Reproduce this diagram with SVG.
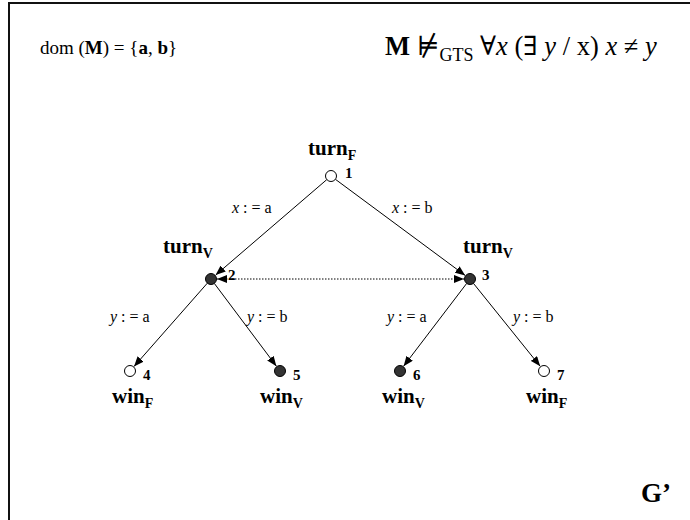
<svg xmlns="http://www.w3.org/2000/svg" width="690" height="520" viewBox="0 0 690 520">
<defs>
<style>
text{font-family:"Liberation Serif","DejaVu Serif",serif;fill:#000}
.lbl{font-size:21px;font-weight:bold}
.sub{font-size:14px;font-weight:bold}
.num{font-size:15px;font-weight:bold}
.edge{font-size:16px}
.it{font-style:italic}
.open{fill:#fff;stroke:#000;stroke-width:1}
.fill{fill:#333;stroke:#000;stroke-width:1}
.conn{stroke:#000;stroke-width:1;fill:none}
</style>
<marker id="ah" markerUnits="userSpaceOnUse" markerWidth="10" markerHeight="8" refX="10" refY="4" orient="auto-start-reverse">
<path d="M0,0 L10,4 L0,8 z" fill="#000"/>
</marker>
</defs>
<rect width="690" height="520" fill="#fff"/>
<path d="M9,520 V3 H690" fill="none" stroke="#111" stroke-width="2"/>

<text x="40" y="54" style="font-size:19px">dom (<tspan font-weight="bold">M</tspan>) = {<tspan font-weight="bold">a</tspan>, <tspan font-weight="bold">b</tspan>}</text>
<text x="385" y="55" style="font-size:26.5px"><tspan font-weight="bold">M</tspan> ⊭<tspan style="font-size:18px" dy="6">GTS</tspan><tspan dy="-6"> ∀</tspan><tspan class="it">x</tspan> (∃ <tspan class="it">y</tspan> / x) <tspan class="it">x</tspan> ≠ <tspan class="it">y</tspan></text>

<g id="connectors">
<line class="conn" x1="326.8" y1="179.6" x2="215.6" y2="275.1" marker-end="url(#ah)"/>
<line class="conn" x1="335.4" y1="179.3" x2="465.2" y2="275.4" marker-end="url(#ah)"/>
<line class="conn" x1="207.4" y1="283.1" x2="134" y2="366.5" marker-end="url(#ah)"/>
<line class="conn" x1="214.3" y1="283.4" x2="276.4" y2="366.2" marker-end="url(#ah)"/>
<line class="conn" x1="466.7" y1="283.4" x2="403.6" y2="366.2" marker-end="url(#ah)"/>
<line class="conn" x1="473.4" y1="283.3" x2="540.2" y2="366.3" marker-end="url(#ah)"/>
<line class="conn" x1="217" y1="279" x2="464" y2="279" stroke-dasharray="1.5,1.5" stroke-width="1.5" marker-start="url(#ah)" marker-end="url(#ah)"/>
<text class="edge" x="232" y="213"><tspan class="it">x</tspan> : = a</text>
<text class="edge" x="392" y="213"><tspan class="it">x</tspan> : = b</text>
<text class="edge" x="110" y="322"><tspan class="it">y</tspan> : = a</text>
<text class="edge" x="247" y="322"><tspan class="it">y</tspan> : = b</text>
<text class="edge" x="387" y="322"><tspan class="it">y</tspan> : = a</text>
<text class="edge" x="513" y="322"><tspan class="it">y</tspan> : = b</text>
</g>

<g id="n1">
<circle class="open" cx="331" cy="176" r="5.5"/>
<text class="num" x="345" y="178">1</text>
<text class="lbl" x="308" y="155">turn<tspan class="sub" dy="5">F</tspan></text>
</g>
<g id="n2">
<circle class="fill" cx="211" cy="279" r="5.5"/>
<text class="num" x="228" y="280">2</text>
<text class="lbl" x="163" y="253">turn<tspan class="sub" dy="5">V</tspan></text>
</g>
<g id="n3">
<circle class="fill" cx="470" cy="279" r="5.5"/>
<text class="num" x="482" y="280">3</text>
<text class="lbl" x="463" y="253">turn<tspan class="sub" dy="5">V</tspan></text>
</g>
<g id="n4">
<circle class="open" cx="130" cy="371" r="5.5"/>
<text class="num" x="143" y="380">4</text>
<text class="lbl" x="112" y="403">win<tspan class="sub" dy="5">F</tspan></text>
</g>
<g id="n5">
<circle class="fill" cx="280" cy="371" r="5.5"/>
<text class="num" x="293" y="380">5</text>
<text class="lbl" x="260" y="403">win<tspan class="sub" dy="5">V</tspan></text>
</g>
<g id="n6">
<circle class="fill" cx="400" cy="371" r="5.5"/>
<text class="num" x="413" y="380">6</text>
<text class="lbl" x="382" y="403">win<tspan class="sub" dy="5">V</tspan></text>
</g>
<g id="n7">
<circle class="open" cx="544" cy="371" r="5.5"/>
<text class="num" x="557" y="380">7</text>
<text class="lbl" x="526" y="403">win<tspan class="sub" dy="5">F</tspan></text>
</g>

<text x="641" y="502" style="font-size:27px;font-weight:bold">G’</text>
</svg>
